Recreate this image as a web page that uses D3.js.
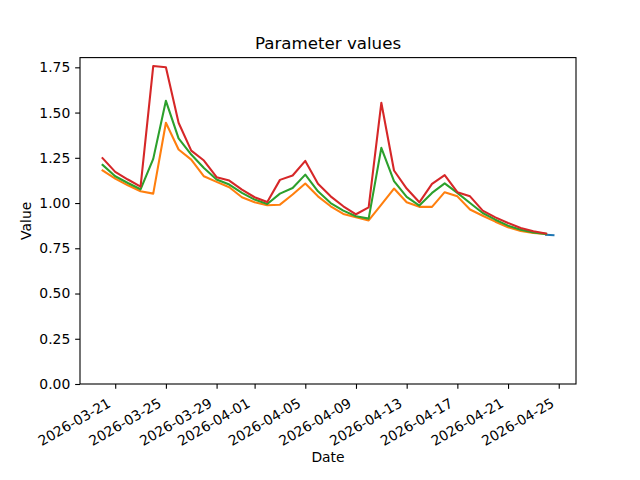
<!DOCTYPE html>
<html>
<head>
<meta charset="utf-8">
<script src="https://cdn.jsdelivr.net/npm/d3@7"></script>
<style>
  html, body { margin: 0; padding: 0; background: #fff; }
  svg { display: block; font-family: "DejaVu Sans", sans-serif; }
</style>
</head>
<body>
<svg id="chart" width="640" height="480"></svg>
<script>
// ---- Data ----
const dates = [
  "2026-03-20","2026-03-21","2026-03-22","2026-03-23","2026-03-24","2026-03-25",
  "2026-03-26","2026-03-27","2026-03-28","2026-03-29","2026-03-30","2026-03-31",
  "2026-04-01","2026-04-02","2026-04-03","2026-04-04","2026-04-05","2026-04-06",
  "2026-04-07","2026-04-08","2026-04-09","2026-04-10","2026-04-11","2026-04-12",
  "2026-04-13","2026-04-14","2026-04-15","2026-04-16","2026-04-17","2026-04-18",
  "2026-04-19","2026-04-20","2026-04-21","2026-04-22","2026-04-23","2026-04-24"
];
const orangeValues = [
  1.180, 1.135, 1.098, 1.065, 1.052, 1.444, 1.296, 1.240, 1.148, 1.117, 1.087, 1.032,
  1.004, 0.988, 0.991, 1.047, 1.108, 1.037, 0.982, 0.940, 0.921, 0.904, 0.991, 1.080,
  1.004, 0.979, 0.979, 1.060, 1.037, 0.964, 0.930, 0.897, 0.866, 0.846, 0.834, 0.829
];
const greenValues = [
  1.211, 1.148, 1.111, 1.076, 1.244, 1.565, 1.357, 1.268, 1.194, 1.130, 1.102, 1.056,
  1.019, 0.995, 1.052, 1.083, 1.157, 1.065, 1.000, 0.958, 0.927, 0.914, 1.305, 1.121,
  1.034, 0.986, 1.056, 1.109, 1.056, 1.000, 0.945, 0.908, 0.875, 0.853, 0.838, 0.829
];
const redValues = [
  1.248, 1.172, 1.130, 1.091, 1.757, 1.750, 1.444, 1.290, 1.235, 1.143, 1.124, 1.074,
  1.032, 1.006, 1.128, 1.152, 1.233, 1.106, 1.037, 0.982, 0.938, 0.976, 1.554, 1.180,
  1.080, 1.004, 1.106, 1.154, 1.060, 1.037, 0.958, 0.921, 0.890, 0.862, 0.844, 0.831
];
const blueDates = ["2026-04-24T00:00", "2026-04-24T14:00"];
const blueValues = [0.825, 0.822];

const xTickLabels = ["2026-03-21","2026-03-25","2026-03-29","2026-04-01","2026-04-05",
                     "2026-04-09","2026-04-13","2026-04-17","2026-04-21","2026-04-25"];
const yTickLabels = ["0.00","0.25","0.50","0.75","1.00","1.25","1.50","1.75"];

const seriesColors = ["#1f77b4", "#ff7f0e", "#2ca02c", "#d62728"];

// ---- Layout ----
const W = 640, H = 480;
const mLeft = 80, mRight = 576, mTop = 57.6, mBottom = 384;

const parse = s => new Date(s.length > 10 ? s + ":00" : s + "T00:00:00");

const series = [
  blueDates.map((d, i) => ({ t: parse(d), v: blueValues[i] })),
  dates.map((d, i) => ({ t: parse(d), v: orangeValues[i] })),
  dates.map((d, i) => ({ t: parse(d), v: greenValues[i] })),
  dates.map((d, i) => ({ t: parse(d), v: redValues[i] }))
];

const allPts = series.flat();
const tMin = d3.min(allPts, p => +p.t), tMax = d3.max(allPts, p => +p.t);
const tPad = (tMax - tMin) * 0.05;
const vMin = d3.min(allPts, p => p.v), vMax = d3.max(allPts, p => p.v);
const vTop = vMax + (vMax - vMin) * 0.05;

const x = d3.scaleTime().domain([new Date(tMin - tPad), new Date(tMax + tPad)]).range([mLeft, mRight]);
const y = d3.scaleLinear().domain([0, vTop]).range([mBottom, mTop]);

const svg = d3.select("#chart");
svg.append("rect").attr("width", W).attr("height", H).attr("fill", "#fff");

// Lines
const line = d3.line().x(p => x(p.t)).y(p => y(p.v));
series.forEach((s, i) => {
  svg.append("path")
    .datum(s)
    .attr("d", line)
    .attr("fill", "none")
    .attr("stroke", seriesColors[i])
    .attr("stroke-width", 2.08)
    .attr("stroke-linejoin", "round")
    .attr("stroke-linecap", "square");
});

// Axes frame
svg.append("rect")
  .attr("x", mLeft).attr("y", mTop)
  .attr("width", mRight - mLeft).attr("height", mBottom - mTop)
  .attr("fill", "none").attr("stroke", "#000").attr("stroke-width", 1.1);

// Y axis ticks
const yAxis = d3.axisLeft(y)
  .tickValues(yTickLabels.map(Number))
  .tickFormat((d, i) => yTickLabels[i])
  .tickSize(4.86).tickPadding(4.86);
const gy = svg.append("g").attr("transform", `translate(${mLeft},0)`).call(yAxis);
gy.select(".domain").remove();
gy.selectAll(".tick line").attr("stroke", "#000").attr("stroke-width", 1.1);
gy.selectAll(".tick text")
  .attr("font-size", "13.9px").attr("fill", "#000")
  .attr("font-family", "DejaVu Sans, sans-serif");

// X axis ticks
const xAxis = d3.axisBottom(x)
  .tickValues(xTickLabels.map(parse))
  .tickFormat((d, i) => xTickLabels[i])
  .tickSize(4.86).tickPadding(4.86);
const gx = svg.append("g").attr("transform", `translate(0,${mBottom})`).call(xAxis);
gx.select(".domain").remove();
gx.selectAll(".tick line").attr("stroke", "#000").attr("stroke-width", 1.1);
gx.selectAll(".tick text")
  .attr("font-size", "13.9px").attr("fill", "#000")
  .attr("font-family", "DejaVu Sans, sans-serif")
  .attr("text-anchor", "end")
  .attr("y", 0).attr("dy", 0)
  .attr("transform", "translate(-4,22) rotate(-30)");

// Labels
svg.append("text")
  .attr("x", (mLeft + mRight) / 2).attr("y", 49.3)
  .attr("text-anchor", "middle").attr("font-size", "16.67px").attr("fill", "#000")
  .text("Parameter values");

svg.append("text")
  .attr("x", (mLeft + mRight) / 2).attr("y", 462)
  .attr("text-anchor", "middle").attr("font-size", "13.9px").attr("fill", "#000")
  .text("Date");

svg.append("text")
  .attr("transform", `translate(31,${(mTop + mBottom) / 2}) rotate(-90)`)
  .attr("text-anchor", "middle").attr("font-size", "13.9px").attr("fill", "#000")
  .text("Value");
</script>
</body>
</html>
